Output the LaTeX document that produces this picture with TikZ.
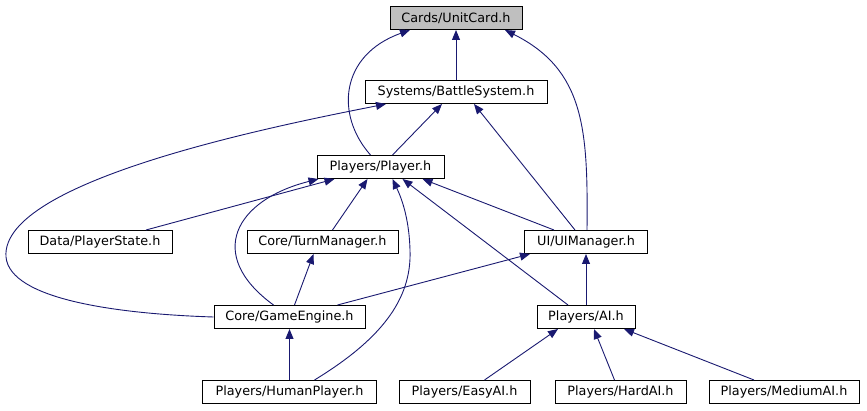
\documentclass[tikz,border=0pt]{standalone}
\usepackage{fontspec}
\setmainfont{DejaVu Sans}
\usetikzlibrary{arrows.meta,calc}
\definecolor{edgeblue}{HTML}{191970}
\definecolor{rootgray}{HTML}{BFBFBF}
\tikzset{
  filebox/.style={draw=black, line width=1pt, fill=white, inner sep=0pt, minimum height=23pt, font=\fontsize{12.8}{14}\selectfont},
  rootbox/.style={filebox, fill=rootgray},
  dep/.style={draw=edgeblue, line width=0.9pt, -{Triangle[length=10pt,width=8pt]}},
}
\begin{document}
\begin{tikzpicture}[x=1pt,y=-1pt]
\useasboundingbox (0,0) rectangle (867,411);
\node[rootbox, minimum width=132pt] (uc) at (456,18) {Cards/UnitCard.h};
\node[filebox, minimum width=182pt] (bs) at (456,92) {Systems/BattleSystem.h};
\node[filebox, minimum width=127pt] (pl) at (380.5,167) {Players/Player.h};
\node[filebox, minimum width=144pt] (ps) at (100,242) {Data/PlayerState.h};
\node[filebox, minimum width=151pt] (tm) at (322.5,242) {Core/TurnManager.h};
\node[filebox, minimum width=123pt] (ui) at (586,242) {UI/UIManager.h};
\node[filebox, minimum width=151pt] (ge) at (289.5,317) {Core/GameEngine.h};
\node[filebox, minimum width=98pt] (ai) at (586,317) {Players/AI.h};
\node[filebox, minimum width=174pt] (hp) at (289.5,392) {Players/HumanPlayer.h};
\node[filebox, minimum width=131pt] (ea) at (464.5,392) {Players/EasyAI.h};
\node[filebox, minimum width=131pt] (ha) at (620.5,392) {Players/HardAI.h};
\node[filebox, minimum width=150pt] (ma) at (784,392) {Players/MediumAI.h};

% to UnitCard
\draw[dep] (bs.north) -- (uc.south);
\draw[dep] ($(pl.north)+(-10,0)$) .. controls (335,115) and (340,55) .. ($(uc.south)+(-46,0)$);
\draw[dep] ($(ui.north)+(1,0)$) .. controls (588,130) and (585,70) .. ($(uc.south)+(49,0)$);
% to BattleSystem
\draw[dep] ($(pl.north)+(12,0)$) -- ($(bs.south)+(-14,0)$);
\draw[dep] ($(ui.north)+(-11,0)$) -- ($(bs.south)+(18,0)$);
\draw[dep] (ge.west) .. controls (120,314) and (10,300) .. (6,257) .. controls (0,180) and (280,125) .. ($(bs.south)+(-70,0)$);
% to Player
\draw[dep] ($(ps.north)+(46,0)$) -- ($(pl.south)+(-46,0)$);
\draw[dep] ($(ge.north)+(-16,0)$) .. controls (205,255) and (235,200) .. ($(pl.south)+(-62,0)$);
\draw[dep] ($(tm.north)+(10,0)$) -- ($(pl.south)+(-13,0)$);
\draw[dep] ($(hp.north)+(25,0)$) .. controls (380,340) and (412,300) .. (410,250) .. controls (409,215) and (400,195) .. ($(pl.south)+(12,0)$);
\draw[dep] ($(ui.north)+(-32,0)$) -- ($(pl.south)+(42,0)$);
\draw[dep] ($(ai.north)+(-18,0)$) -- ($(pl.south)+(22,0)$);
% to TurnManager / UIManager / GameEngine
\draw[dep] ($(ge.north)+(5,0)$) -- ($(tm.south)+(-9,0)$);
\draw[dep] ($(ge.north)+(48,0)$) -- ($(ui.south)+(-56,0)$);
\draw[dep] (ai.north) -- (ui.south);
\draw[dep] (hp.north) -- (ge.south);
% to AI
\draw[dep] ($(ea.north)+(20,0)$) -- ($(ai.south)+(-28,0)$);
\draw[dep] ($(ha.north)+(-6,0)$) -- ($(ai.south)+(8,0)$);
\draw[dep] ($(ma.north)+(-30,0)$) -- ($(ai.south)+(38,0)$);
\end{tikzpicture}
\end{document}
